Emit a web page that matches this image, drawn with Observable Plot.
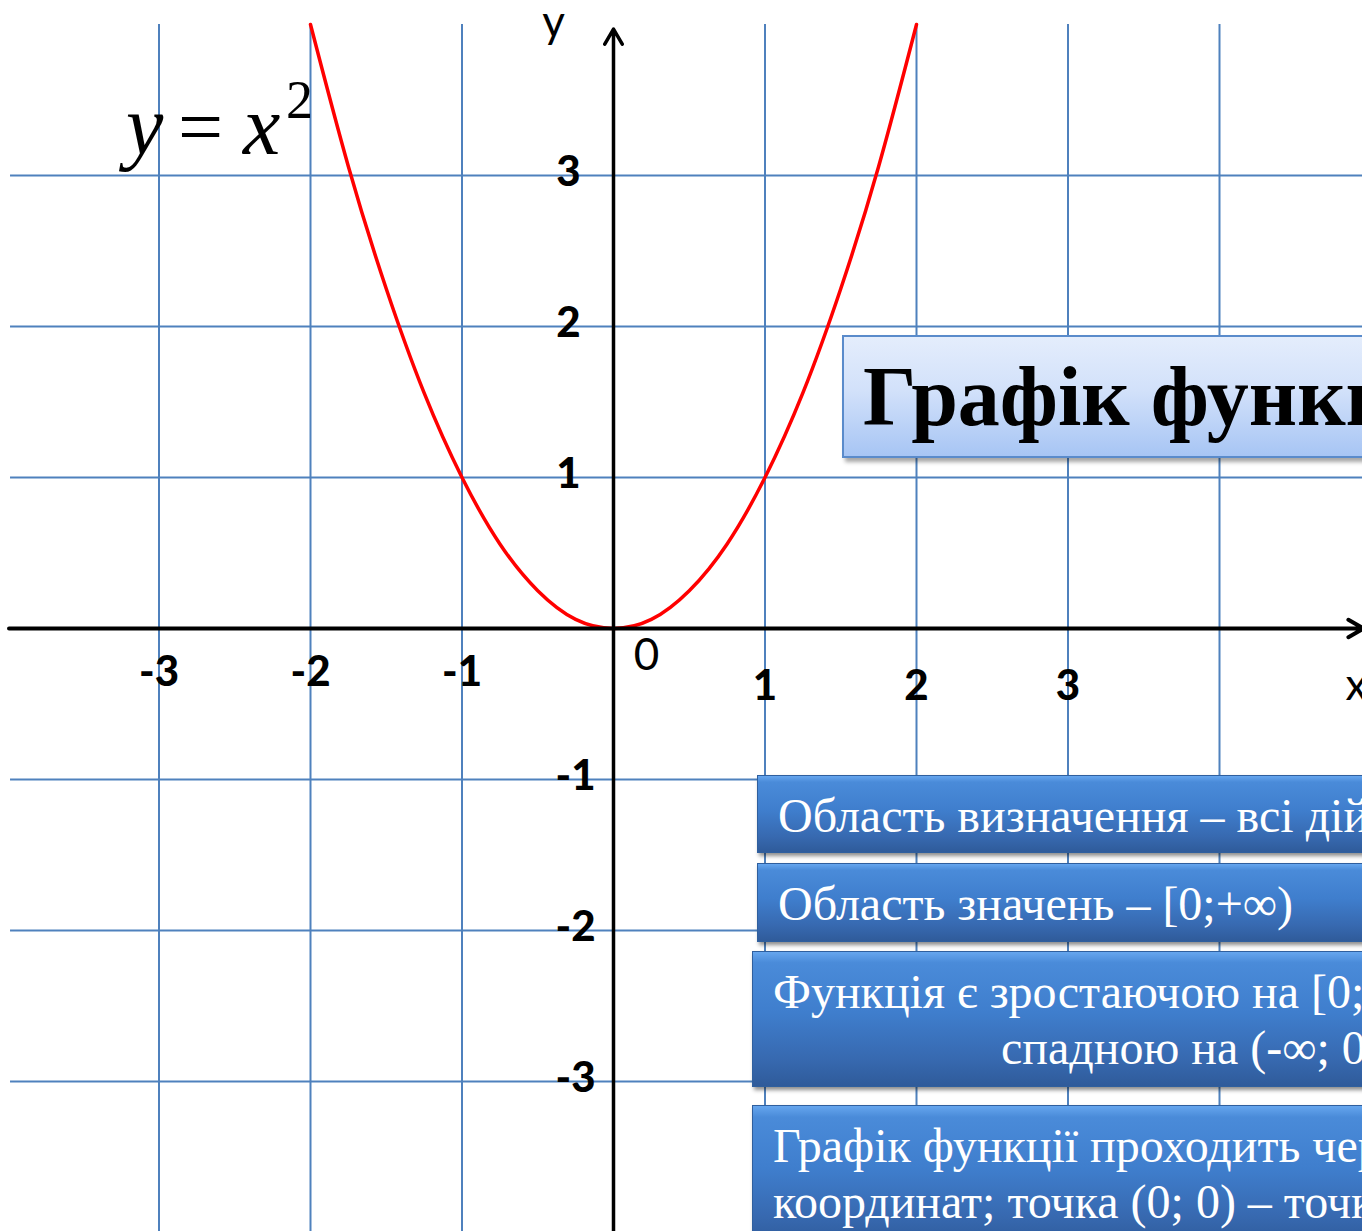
<!DOCTYPE html>
<html>
<head>
<meta charset="utf-8">
<script src="https://cdn.jsdelivr.net/npm/d3@7"></script>
<script src="https://cdn.jsdelivr.net/npm/@observablehq/plot@0.6"></script>
<style>
  html, body { margin: 0; padding: 0; background: #fff; }
  #wrap { position: relative; width: 1362px; height: 1231px; overflow: hidden; background: #fff; }
  #wrap svg { position: absolute; left: 0; top: 0; }
  .formula { position: absolute; font-family: "Liberation Serif", "Times New Roman", serif; color: #000; line-height: 80px; white-space: nowrap; }
  .title {
    position: absolute; left: 842px; top: 335px; width: 700px; height: 119px;
    border: 2px solid #5a8bcb;
    background: linear-gradient(to bottom, #e4edfc 0%, #d2e1fa 45%, #a7c5f4 100%);
    box-shadow: 3px 4px 4px rgba(0,0,0,0.35);
    font-family: "Liberation Serif", "Times New Roman", serif; font-weight: bold;
    font-size: 84px; line-height: 119px; padding-left: 19px; box-sizing: content-box;
    white-space: nowrap; color: #000;
  }
  .box {
    position: absolute; width: 800px; box-sizing: border-box;
    border: 1px solid #2f5f9e;
    background: linear-gradient(to bottom, #66a6ee 0%, #4a8bd9 8%, #3f7ecd 45%, #3769b0 80%, #2f5b9a 100%);
    box-shadow: 2px 3px 4px rgba(0,0,0,0.45);
    font-family: "Liberation Serif", "Times New Roman", serif;
    font-size: 48px; line-height: 56px; color: #fff; white-space: nowrap;
    padding-left: 20px; padding-top: 12px;
  }
</style>
</head>
<body>
<div id="wrap"></div>
<script>
// ---- data ----
const gridX = [-3, -2, -1, 1, 2, 3, 4];
const gridY = [-3, -2, -1, 1, 2, 3];
const xTicksNeg = [-3, -2, -1];
const xTicksPos = [1, 2, 3];
const yTicksPos = [1, 2, 3];
const yTicksNeg = [-1, -2, -3];
const curveX = [-2, -1.75, -1.5, -1.25, -1, -0.75, -0.5, -0.25, 0, 0.25, 0.5, 0.75, 1, 1.25, 1.5, 1.75, 2];
const curveY = [4, 3.06, 2.25, 1.56, 1, 0.56, 0.25, 0.06, 0, 0.06, 0.25, 0.56, 1, 1.56, 2.25, 3.06, 4];
const titleText = "Графік функції y = x²";
const facts = [
  ["Область визначення – всі дійсні числа"],
  ["Область значень – [0;+∞)"],
  ["Функція є зростаючою на [0;+∞) і", "спадною на (-∞; 0]"],
  ["Графік функції проходить через початок", "координат; точка (0; 0) – точка мінімуму"]
];

const curve = curveX.map((x, i) => ({x, y: curveY[i]}));
const labelFont = "Lato, 'Open Sans', sans-serif";

const plot = Plot.plot({
  width: 1362,
  height: 1231,
  margin: 0,
  x: {domain: [-613 / 151.5, (1362 - 613) / 151.5], axis: null},
  y: {domain: [-(1231 - 628) / 151, 628 / 151], axis: null},
  style: {background: "white"},
  marks: [
    Plot.ruleX(gridX, {x: d => d, y1: () => -4.1, y2: () => 4.0, stroke: "#4f81bd", strokeWidth: 2}),
    Plot.ruleY(gridY, {y: d => d, x1: () => -3.98, x2: () => 5.2, stroke: "#4f81bd", strokeWidth: 2}),
    Plot.line(curve, {x: "x", y: "y", stroke: "#ff0000", strokeWidth: 3.5, curve: "natural"}),
    Plot.arrow([0], {x1: () => -3.99, x2: () => 4.95, y1: () => 0, y2: () => 0, stroke: "black", strokeWidth: 4, headLength: 6.5}),
    Plot.arrow([0], {x1: () => 0, x2: () => 0, y1: () => -4.1, y2: () => 3.97, stroke: "black", strokeWidth: 3.5, headLength: 7.5}),
    Plot.text(xTicksNeg, {x: d => d, y: () => 0, text: d => String(d), dy: 43.6, fontSize: 42, fontWeight: 900, fontFamily: labelFont, fill: "black"}),
    Plot.text(xTicksPos, {x: d => d, y: () => 0, text: d => String(d), dy: 57.6, fontSize: 42, fontWeight: 900, fontFamily: labelFont, fill: "black"}),
    Plot.text(yTicksPos, {x: () => 0, y: d => d, text: d => String(d), textAnchor: "end", dx: -33, dy: -3, fontSize: 42, fontWeight: 900, fontFamily: labelFont, fill: "black"}),
    Plot.text(yTicksNeg, {x: () => 0, y: d => d, text: d => String(d), textAnchor: "end", dx: -18, dy: -3, fontSize: 42, fontWeight: 900, fontFamily: labelFont, fill: "black"}),
    Plot.text(["0"], {x: () => 0, y: () => 0, text: d => d, dx: 33, dy: 27, fontSize: 44, fontFamily: labelFont, fill: "black"}),
    Plot.text(["y"], {x: () => 0, y: () => 0, text: d => d, dx: -60, dy: -606, fontSize: 44, fontFamily: labelFont, fill: "black"}),
    Plot.text(["x"], {x: () => 0, y: () => 0, text: d => d, dx: 743, dy: 57, fontSize: 44, fontFamily: labelFont, fill: "black"})
  ]
});

const wrap = document.getElementById("wrap");
wrap.appendChild(plot);

// formula y = x^2
function addSpan(text, left, top, size, italic) {
  const s = document.createElement("div");
  s.className = "formula";
  s.textContent = text;
  s.style.left = left + "px";
  s.style.top = top + "px";
  s.style.fontSize = size + "px";
  s.style.fontStyle = italic ? "italic" : "normal";
  wrap.appendChild(s);
}
addSpan("y", 126, 86, 84, true);
addSpan("=", 178, 87, 80, false);
addSpan("x", 243, 86, 84, true);
addSpan("2", 286, 60, 54, false);

// title box
const t = document.createElement("div");
t.className = "title";
t.textContent = titleText;
wrap.appendChild(t);

// fact boxes
const boxGeom = [
  {left: 757, top: 775, height: 78},
  {left: 757, top: 863, height: 79},
  {left: 752, top: 951, height: 136},
  {left: 752, top: 1105, height: 140}
];
facts.forEach((lines, i) => {
  const b = document.createElement("div");
  b.className = "box";
  const g = boxGeom[i];
  b.style.left = g.left + "px";
  b.style.top = g.top + "px";
  b.style.height = g.height + "px";
  lines.forEach((ln, j) => {
    const d = document.createElement("div");
    d.textContent = ln;
    if (i === 2 && j === 1) d.style.paddingLeft = "228px";
    b.appendChild(d);
  });
  wrap.appendChild(b);
});
</script>
</body>
</html>
